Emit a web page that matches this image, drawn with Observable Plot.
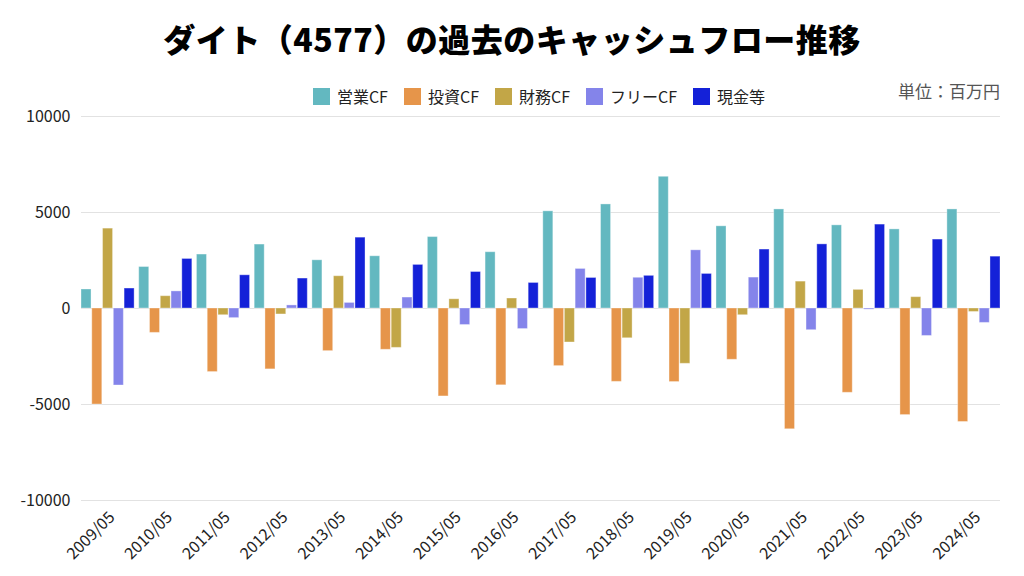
<!DOCTYPE html>
<html>
<head>
<meta charset="utf-8">
<script src="https://cdn.jsdelivr.net/npm/d3@7"></script>
<script src="https://cdn.jsdelivr.net/npm/@observablehq/plot@0.6"></script>
<style>
  html, body { margin: 0; padding: 0; background: #fff; }
  body { width: 1024px; height: 576px; overflow: hidden; position: relative;
         font-family: "Noto Sans CJK JP", "Noto Sans", sans-serif; color: #222; }
  #title { position: absolute; top: 16px; left: 0; width: 1024px; text-align: center;
           font-size: 32px; font-weight: 900; line-height: 44px; color: #000; letter-spacing: 0.5px; z-index: 2; }
  #legend { position: absolute; top: 84px; left: 0; width: 1078px; display: flex; z-index: 2;
            justify-content: center; align-items: center; font-size: 16px; color: #222; }
  .item { display: flex; align-items: center; margin: 0 8px; }
  .sw { width: 17px; height: 17px; margin-right: 7px; }
  #unit { position: absolute; top: 78px; right: 24px; font-size: 17px; color: #555; z-index: 2; }
  #chart { position: absolute; top: 100px; left: 0; z-index: 1; }
</style>
</head>
<body>
<div id="title">ダイト（4577）の過去のキャッシュフロー推移</div>
<div id="legend"></div>
<div id="unit">単位：百万円</div>
<div id="chart"></div>
<script>
const years = ["2009/05","2010/05","2011/05","2012/05","2013/05","2014/05","2015/05","2016/05",
               "2017/05","2018/05","2019/05","2020/05","2021/05","2022/05","2023/05","2024/05"];
const seriesNames = ["営業CF","投資CF","財務CF","フリーCF","現金等"];
const colors = ["#63b8c0","#e6954a","#c2a647","#8484ea","#1421d8"];

const eigyoCF = [990, 2160, 2810, 3330, 2510, 2720, 3720, 2930, 5060, 5420, 6860, 4280, 5160, 4330, 4120, 5160];
const toshiCF = [-5000, -1270, -3310, -3170, -2220, -2150, -4580, -4000, -3000, -3820, -3830, -2670, -6290, -4390, -5550, -5910];
const zaimuCF = [4160, 640, -350, -310, 1680, -2050, 480, 520, -1770, -1550, -2880, -350, 1400, 970, 590, -180];
const freeCF  = [-4010, 890, -500, 160, 290, 570, -860, -1070, 2060, 1600, 3030, 1610, -1130, -60, -1430, -750];
const cash    = [1040, 2580, 1730, 1560, 3690, 2270, 1900, 1330, 1590, 1700, 1800, 3070, 3340, 4370, 3590, 2700];
const yTicks = [-10000, -5000, 0, 5000, 10000];

const seriesValues = [eigyoCF, toshiCF, zaimuCF, freeCF, cash];

// legend
const legend = document.getElementById("legend");
seriesNames.forEach((name, j) => {
  const it = document.createElement("div");
  it.className = "item";
  it.innerHTML = `<div class="sw" style="background:${colors[j]}"></div><span>${name}</span>`;
  legend.appendChild(it);
});

const W = 1024, H = 476, mL = 81, mR = 24, mT = 16, mB = 76;
const padInner = 0.08;
const band = d3.scaleBand(years, [mL, W - mR]).paddingInner(padInner).paddingOuter(0);
const bw = band.bandwidth();
const n = seriesNames.length;
const subStep = bw / (n - 0.07);
const barW = subStep * 0.93;

const marks = [
  Plot.gridY(yTicks, {stroke: "#e2e2e2", strokeOpacity: 1, strokeWidth: 1}),
  Plot.axisY(yTicks, {tickSize: 0, tickPadding: 11, fontSize: 16, tickFormat: d => String(d), fill: "#222"}),
];
seriesNames.forEach((name, j) => {
  const rows = years.map((y, i) => ({year: y, series: name, value: seriesValues[j][i]}));
  marks.push(Plot.barY(rows, {
    x: "year", y: "value", fill: "series",
    insetLeft: j * subStep, insetRight: bw - j * subStep - barW,
    stroke: "#ffffff", strokeOpacity: 0.35, strokeWidth: 1
  }));
});
marks.push(Plot.axisX({tickSize: 0, tickRotate: -45, fontSize: 16, tickPadding: 14, dx: 4, fill: "#222"}));

const chart = Plot.plot({
  width: W, height: H, marginLeft: mL, marginRight: mR, marginTop: mT, marginBottom: mB,
  style: {fontFamily: '"Noto Sans CJK JP", "Noto Sans", sans-serif', background: "transparent", color: "#222", overflow: "visible"},
  x: {domain: years, paddingInner: padInner, paddingOuter: 0, round: false, label: null},
  y: {domain: [-10000, 10000], label: null},
  color: {domain: seriesNames, range: colors},
  marks
});
document.getElementById("chart").appendChild(chart);
</script>
</body>
</html>
